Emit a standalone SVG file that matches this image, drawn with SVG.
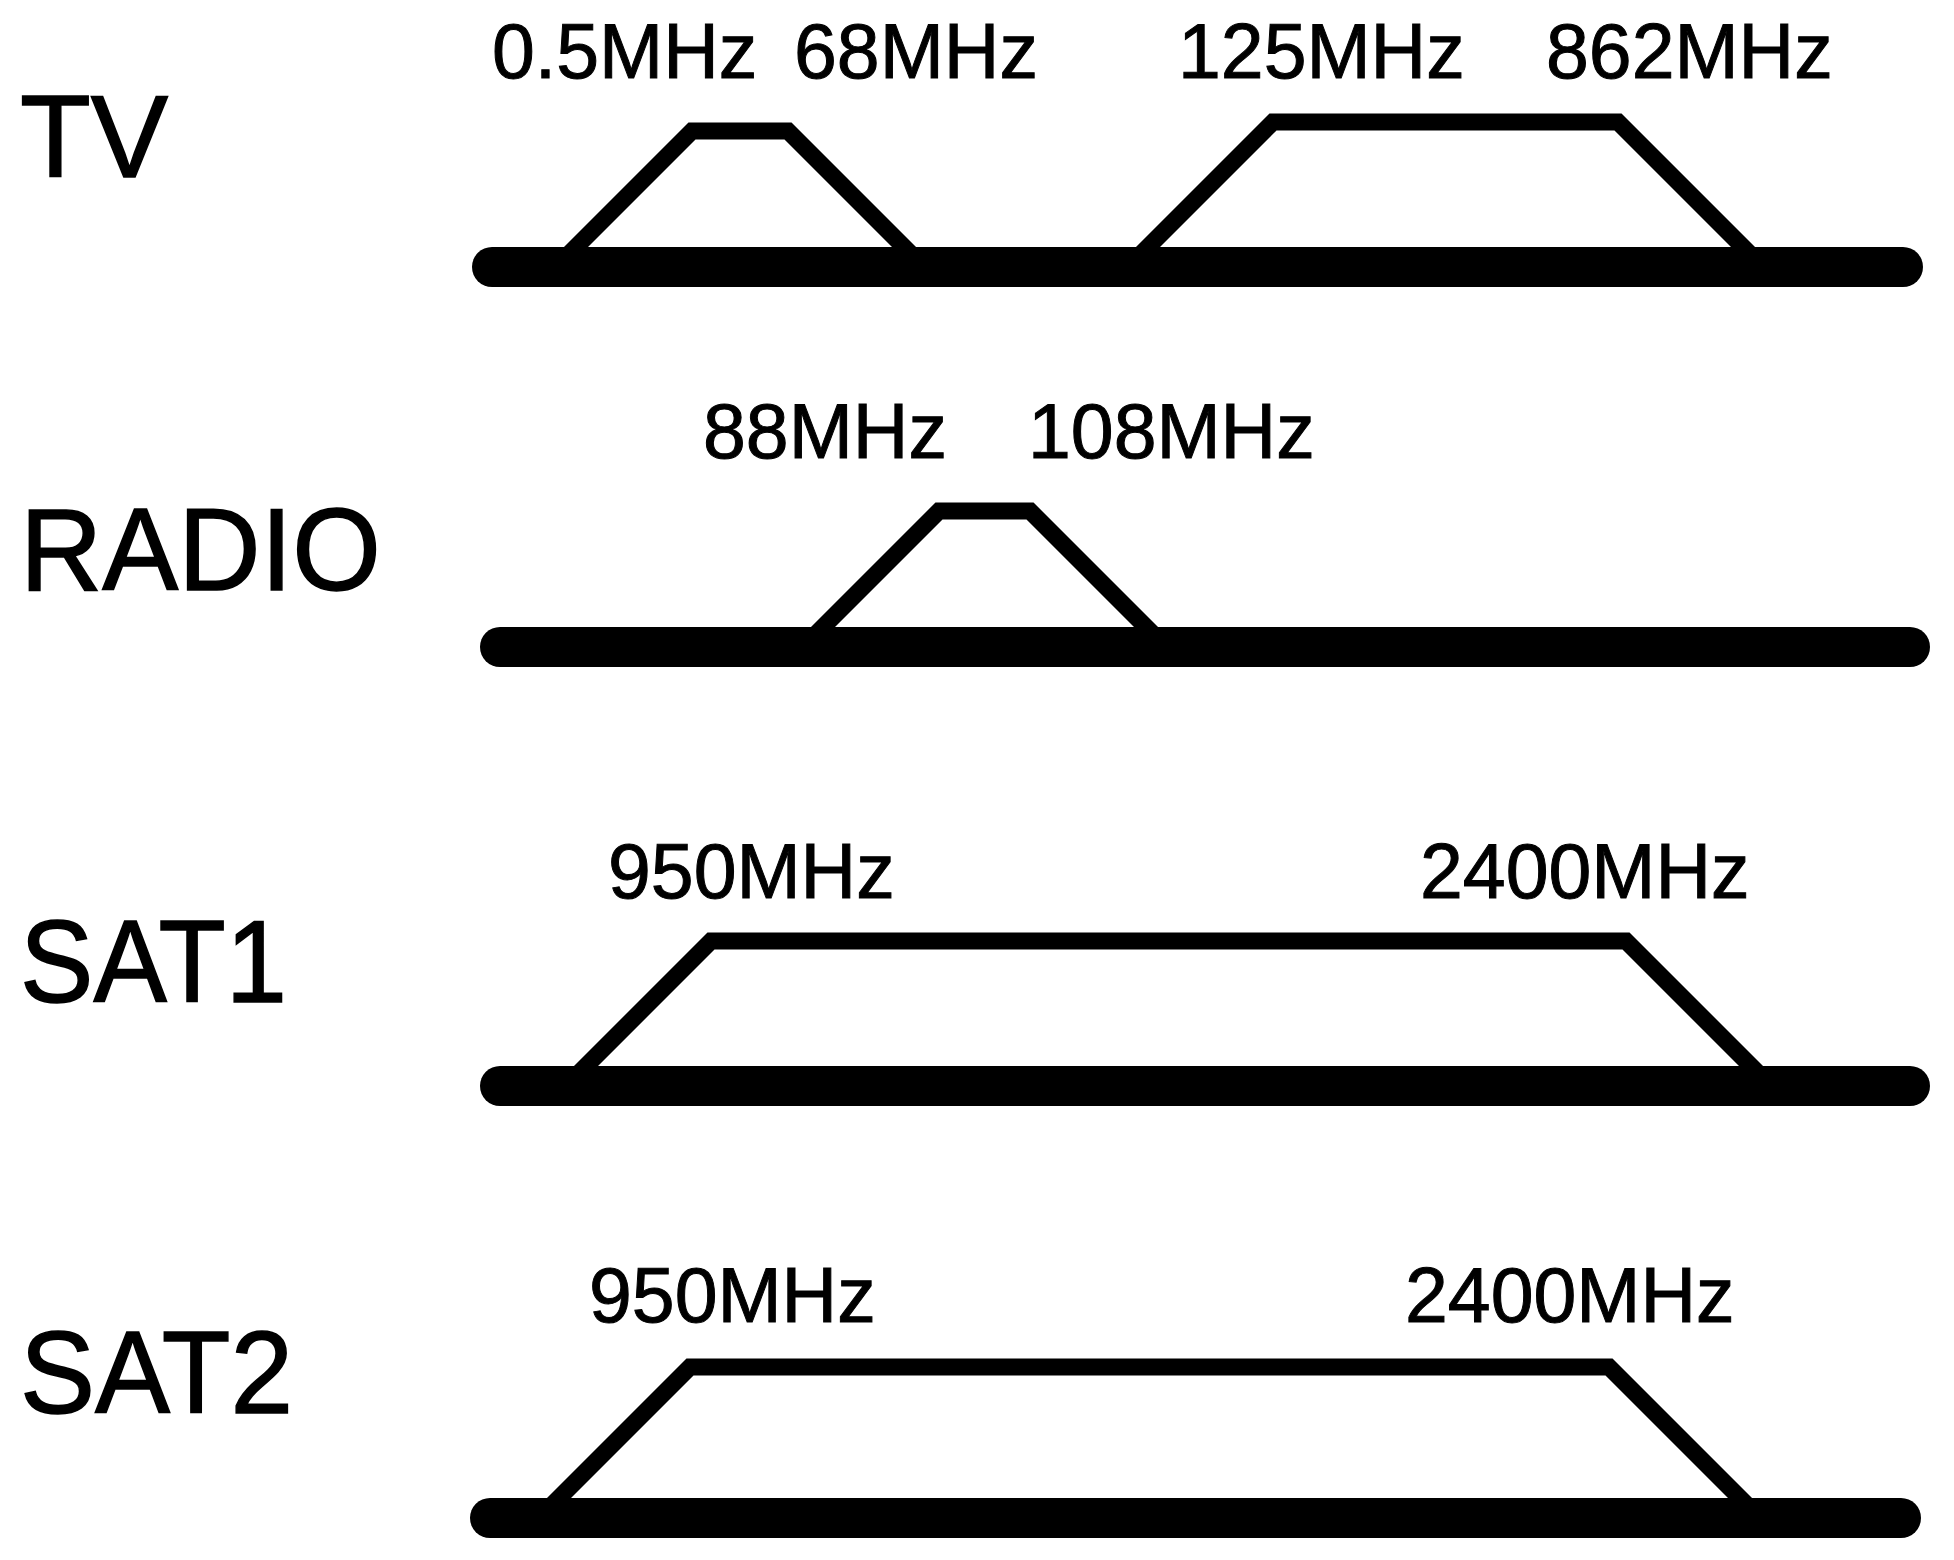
<svg xmlns="http://www.w3.org/2000/svg" width="1954" height="1560" viewBox="0 0 1954 1560">
<style>
.bg{fill:#ffffff}
.name{font-family:"Liberation Sans",Arial,sans-serif;font-size:116px;fill:#000;stroke:#000;stroke-width:1.5}
.freq{font-family:"Liberation Sans",Arial,sans-serif;font-size:77px;fill:#000;stroke:#000;stroke-width:1}
.axis{stroke:#000;stroke-width:40;stroke-linecap:round;fill:none}
.band{stroke:#000;stroke-width:17;stroke-linejoin:miter;fill:none}
</style>
<rect class="bg" x="0" y="0" width="1954" height="1560"/>
<g id="tv">
<text class="name" x="20" y="177">TV</text>
<text class="freq" x="492" y="78">0.5MHz</text>
<text class="freq" x="794" y="78">68MHz</text>
<text class="freq" x="1178" y="78">125MHz</text>
<text class="freq" x="1546" y="78">862MHz</text>
<polyline class="band" points="556,267 692,131 788,131 924,267"/>
<polyline class="band" points="1128,267 1273,122 1618,122 1763,267"/>
<line class="axis" x1="492" y1="267" x2="1903" y2="267"/>
</g>
<g id="radio">
<text class="name" x="20" y="590" textLength="361" lengthAdjust="spacingAndGlyphs">RADIO</text>
<text class="freq" x="703" y="458">88MHz</text>
<text class="freq" x="1028" y="458">108MHz</text>
<polyline class="band" points="803,647 939,511 1030,511 1166,647"/>
<line class="axis" x1="500" y1="647" x2="1910" y2="647"/>
</g>
<g id="sat1">
<text class="name" x="20" y="1002" textLength="267" lengthAdjust="spacingAndGlyphs">SAT1</text>
<text class="freq" x="608" y="898">950MHz</text>
<text class="freq" x="1420" y="898">2400MHz</text>
<polyline class="band" points="566,1086 711,941 1626,941 1771,1086"/>
<line class="axis" x1="500" y1="1086" x2="1910" y2="1086"/>
</g>
<g id="sat2">
<text class="name" x="20" y="1413" textLength="273" lengthAdjust="spacingAndGlyphs">SAT2</text>
<text class="freq" x="589" y="1322">950MHz</text>
<text class="freq" x="1405" y="1322">2400MHz</text>
<polyline class="band" points="539,1518 690,1367 1609,1367 1760,1518"/>
<line class="axis" x1="490" y1="1518" x2="1901" y2="1518"/>
</g>
<g id="connectors"></g>
</svg>
